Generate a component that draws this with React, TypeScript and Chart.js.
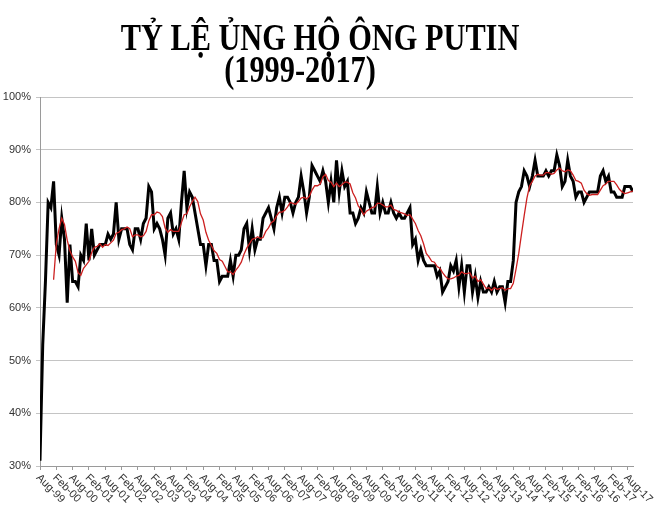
import { useEffect, useRef } from "react";
import { Chart, registerables } from "chart.js";

Chart.register(...registerables);

const titleLine1 = "TỶ LỆ ỦNG HỘ ÔNG PUTIN";
const titleLine2 = "(1999-2017)";

// tỷ lệ ủng hộ theo tháng (%), bắt đầu từ Aug-99
const approval = [
    31, 53, 65, 80, 79, 84, 72, 70, 77, 73,
    61, 72, 65, 65, 64, 70, 69, 76, 69, 75,
    70, 71, 72, 72, 72, 74, 73, 74, 80, 73,
    75, 75, 75, 72, 71, 75, 75, 73, 76, 77,
    83, 82, 75, 76, 75, 73, 70, 77, 78, 74,
    75, 73, 80, 86, 79, 82, 81, 78, 75, 72,
    72, 68, 72, 72, 69, 69, 65, 66, 66, 66,
    69, 66, 70, 70, 71, 75, 76, 71, 75, 71,
    73, 73, 77, 78, 79, 77, 75, 79, 81, 78,
    81, 81, 80, 78, 80, 81, 85, 82, 78, 81,
    87, 86, 85, 84, 86, 84, 80, 84, 80, 88,
    82, 86, 83, 84, 78, 78, 76, 77, 79, 78,
    82, 80, 78, 78, 83, 78, 80, 78, 78, 80,
    78, 77, 78, 77, 77, 78, 79, 72, 73, 69,
    71, 69, 68, 68, 68, 68, 66, 67, 63,
    64, 65, 68, 67, 69, 64, 68, 63, 68, 68,
    63, 66, 62, 65, 63, 63, 64, 63, 65, 63,
    64, 64, 61, 65, 65, 69, 80, 82, 83, 86,
    85, 83, 85, 88, 85, 85, 85, 86, 85, 86,
    86, 89, 87, 83, 84, 88, 85, 84, 81, 82,
    82, 80, 81, 82, 82, 82, 82, 85, 86, 84,
    85, 82, 82, 81, 81, 81, 83, 83, 83, 82,
];

// nhãn trục hoành, mỗi 6 tháng một nhãn
const tickLabels = [
    "Aug-99", "Feb-00", "Aug-00", "Feb-01", "Aug-01", "Feb-02", "Aug-02",
    "Feb-03", "Aug-03", "Feb-04", "Aug-04", "Feb-05", "Aug-05", "Feb-06",
    "Aug-06", "Feb-07", "Aug-07", "Feb-08", "Aug-08", "Feb-09", "Aug-09",
    "Feb-10", "Aug-10", "Feb-11", "Aug-11", "Feb-12", "Aug-12", "Feb-13",
    "Aug-13", "Feb-14", "Aug-14", "Feb-15", "Aug-15", "Feb-16", "Aug-16",
    "Feb-17", "Aug-17",
];
const TICK_STEP = 6;

// đường xu hướng: trung bình động 6 kỳ (như trendline của Excel)
const TREND_PERIOD = 6;

const approvalPoints = approval.map((v, i) => ({ x: i, y: v }));
const trendPoints = approval
    .map((_, i) => {
        if (i < TREND_PERIOD - 1) return null;
        const win = approval.slice(i - TREND_PERIOD + 1, i + 1);
        return { x: i, y: win.reduce((a, b) => a + b, 0) / TREND_PERIOD };
    })
    .filter((p) => p !== null);

const TITLE_SQUASH = 0.82;

const drawSquashed = (ctx: CanvasRenderingContext2D, text: string, cx: number, y: number) => {
    ctx.save();
    ctx.translate(cx, y);
    ctx.scale(TITLE_SQUASH, 1);
    ctx.fillText(text, 0, 0);
    ctx.restore();
};

const decorations = {
    id: "decorations",
    afterDraw(chart: any) {
        const { ctx, chartArea, scales } = chart;
        ctx.save();
        // tiêu đề
        ctx.fillStyle = "#000";
        ctx.textAlign = "center";
        ctx.textBaseline = "alphabetic";
        ctx.font = "bold 37px 'Liberation Serif'";
        drawSquashed(ctx, titleLine1, 320, 50);
        drawSquashed(ctx, titleLine2, 300, 82);

        // nhãn trục hoành xoay 45 độ
        ctx.font = "11px 'Liberation Sans'";
        ctx.fillStyle = "#333";
        ctx.textAlign = "left";
        ctx.textBaseline = "middle";
        tickLabels.forEach((label, k) => {
            const px = scales.x.getPixelForValue(k * TICK_STEP);
            ctx.save();
            ctx.translate(px - 2, chartArea.bottom + 10);
            ctx.rotate(Math.PI / 4);
            ctx.fillText(label, 0, 0);
            ctx.restore();
        });
        ctx.restore();
    },
};

const PutinApprovalChart = () => {
    const canvasRef = useRef<HTMLCanvasElement>(null);

    useEffect(() => {
        if (!canvasRef.current) return;
        const chart = new Chart(canvasRef.current, {
            type: "line",
            data: {
                datasets: [
                    {
                        data: trendPoints as any,
                        borderColor: "#cc1f1f",
                        borderWidth: 1.3,
                        pointRadius: 0,
                        tension: 0,
                    },
                    {
                        data: approvalPoints,
                        borderColor: "#000",
                        borderWidth: 3,
                        pointRadius: 0,
                        tension: 0,
                    },
                ],
            },
            options: {
                animation: false,
                responsive: true,
                maintainAspectRatio: false,
                layout: { padding: { top: 97, right: 27, bottom: 0, left: 0 } },
                plugins: {
                    legend: { display: false },
                    tooltip: { enabled: false },
                },
                scales: {
                    x: {
                        type: "linear",
                        min: 0,
                        max: approval.length - 1,
                        afterFit: (s: any) => {
                            s.height = 49;
                        },
                        afterBuildTicks: (s: any) => {
                            s.ticks = tickLabels.map((_, k) => ({ value: k * TICK_STEP }));
                        },
                        grid: { drawOnChartArea: false, drawTicks: true, tickLength: 4, color: "#9a9a9a" },
                        border: { color: "#9a9a9a" },
                        ticks: { display: false },
                    },
                    y: {
                        min: 30,
                        max: 100,
                        afterFit: (s: any) => {
                            s.width = 40;
                        },
                        ticks: {
                            stepSize: 10,
                            callback: (v: any) => v + "%",
                            color: "#333",
                            font: { family: "Liberation Sans", size: 11 },
                            padding: 5,
                        },
                        grid: { color: "#c4c4c4", tickLength: 4 },
                        border: { color: "#9a9a9a" },
                    },
                },
            },
            plugins: [decorations],
        });
        return () => {
            chart.destroy();
        };
    }, []);

    return (
        <div style={{ position: "fixed", left: 0, top: 0, width: "660px", height: "515px", background: "#fff" }}>
            <canvas ref={canvasRef}></canvas>
        </div>
    );
};

export default function App() {
    return <PutinApprovalChart />;
}
